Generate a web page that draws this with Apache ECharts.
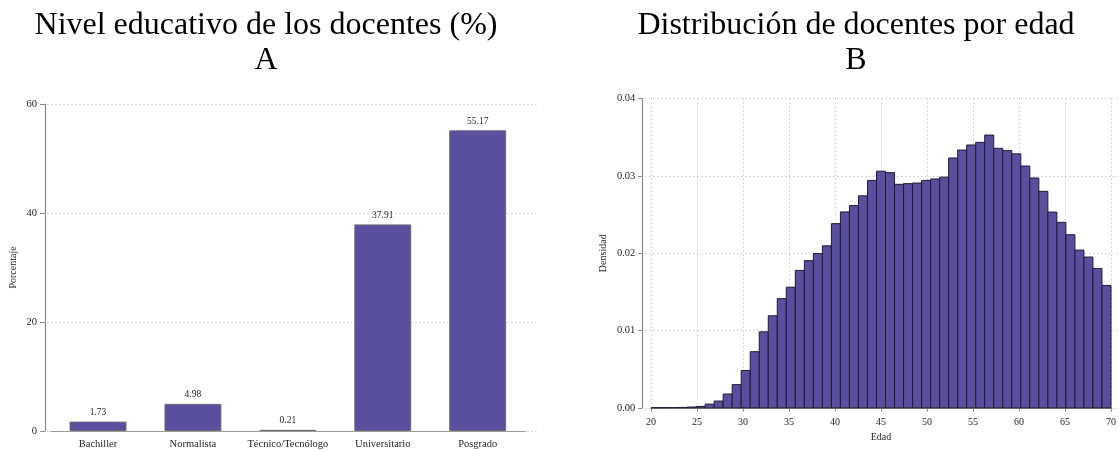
<!DOCTYPE html>
<html>
<head>
<meta charset="utf-8">
<script src="https://cdn.jsdelivr.net/npm/echarts@6/dist/echarts.min.js"></script>
<style>
  html, body { margin: 0; padding: 0; background: #fff; }
  #chart { width: 1119px; height: 450px; }
</style>
</head>
<body>
<div id="chart"></div>
<script>
// Panel A: teachers' education level (%)
const nivelCategorias = ['Bachiller', 'Normalista', 'Técnico/Tecnólogo', 'Universitario', 'Posgrado'];
const nivelPorcentaje = [1.73, 4.98, 0.21, 37.91, 55.17];

// Panel B: age histogram (density), equal-width bins between these ages
const edadMin = 20;
const edadMax = 70;
const edadDensidad = [
  0.00002, 0.00002, 0.00003, 0.00005, 0.0001, 0.00018, 0.00048, 0.00087, 0.00178, 0.0030,
  0.00483, 0.00726, 0.00983, 0.01191, 0.01413, 0.01561, 0.01778, 0.01904, 0.01996, 0.02096,
  0.02383, 0.02535, 0.02617, 0.02743, 0.02943, 0.03062, 0.03043, 0.02892, 0.02901, 0.02909,
  0.02943, 0.02961, 0.02985, 0.03233, 0.03336, 0.03401, 0.03435, 0.03530, 0.03358, 0.03328,
  0.03286, 0.03129, 0.02974, 0.02801, 0.02533, 0.02400, 0.02240, 0.02041, 0.01951, 0.01804,
  0.01584
];

const SERIF = "'Liberation Serif', 'Times New Roman', serif";
const BAR_FILL = '#5a4e9e';
const AXIS_GRAY = '#8a8a8a';
const TEXT = '#262626';
const GRID_DOT = { show: true, lineStyle: { type: [1.5, 2.5], color: '#c8c8c8', width: 1 } };

const anchoBin = (edadMax - edadMin) / edadDensidad.length;
const histData = edadDensidad.map((d, i) => [edadMin + i * anchoBin, edadMin + (i + 1) * anchoBin, d]);

const chart = echarts.init(document.getElementById('chart'), null, { renderer: 'canvas' });

const titleStyle = { fontFamily: SERIF, fontSize: 32, fontWeight: 'normal', color: '#000', lineHeight: 35 };

chart.setOption({
  backgroundColor: '#fff',
  animation: false,
  title: [
    { text: 'Nivel educativo de los docentes (%)\nA', left: 266, top: 8, padding: 0, textAlign: 'center', textStyle: titleStyle },
    { text: 'Distribución de docentes por edad\nB', left: 856, top: 8, padding: 0, textAlign: 'center', textStyle: titleStyle }
  ],
  grid: [
    // A: backdrop for the horizontal guide lines
    { left: 47, right: 581, top: 104, bottom: 18.3 },
    // A: bars
    { left: 50.55, right: 593.85, top: 104, bottom: 18.3 },
    // B: backdrop for the horizontal guide lines
    { left: 645, right: 1, top: 98.7, bottom: 42.2 },
    // B: histogram
    { left: 651, right: 7.3, top: 98.7, bottom: 42.2 }
  ],
  xAxis: [
    { gridIndex: 0, type: 'value', min: 0, max: 1, show: false },
    {
      gridIndex: 1, type: 'category', data: nivelCategorias,
      axisLine: { show: true, lineStyle: { color: '#9a9a9a', width: 1 } },
      axisTick: { show: false },
      axisLabel: { interval: 0, fontFamily: SERIF, fontSize: 10.5, color: TEXT, margin: 8 },
      splitLine: { show: false }
    },
    { gridIndex: 2, type: 'value', min: 0, max: 1, show: false },
    {
      gridIndex: 3, type: 'value', min: edadMin, max: edadMax, interval: 5,
      name: 'Edad', nameLocation: 'middle', nameGap: 25,
      nameTextStyle: { fontFamily: SERIF, fontSize: 10, color: TEXT },
      axisLine: { show: true, lineStyle: { color: AXIS_GRAY, width: 1 } },
      axisTick: { show: true, length: 4, lineStyle: { color: AXIS_GRAY } },
      axisLabel: { fontFamily: SERIF, fontSize: 10, color: TEXT, margin: 10 },
      splitLine: GRID_DOT
    }
  ],
  yAxis: [
    {
      gridIndex: 0, type: 'value', min: 0, max: 60, interval: 20,
      axisLine: { show: false }, axisTick: { show: false }, axisLabel: { show: false },
      splitLine: GRID_DOT
    },
    {
      gridIndex: 1, type: 'value', min: 0, max: 60, interval: 20, offset: 5.55,
      name: 'Porcentaje', nameLocation: 'middle', nameGap: 27,
      nameTextStyle: { fontFamily: SERIF, fontSize: 10, color: TEXT },
      axisLine: { show: true, lineStyle: { color: AXIS_GRAY, width: 1.2 } },
      axisTick: { show: true, length: 5, lineStyle: { color: AXIS_GRAY } },
      axisLabel: { fontFamily: SERIF, fontSize: 10.5, color: TEXT, margin: 8 },
      splitLine: { show: false }
    },
    {
      gridIndex: 2, type: 'value', min: 0, max: 0.04, interval: 0.01,
      axisLine: { show: false }, axisTick: { show: false }, axisLabel: { show: false },
      splitLine: GRID_DOT
    },
    {
      gridIndex: 3, type: 'value', min: 0, max: 0.04, interval: 0.01, offset: 8.7,
      name: 'Densidad', nameLocation: 'middle', nameGap: 34,
      nameTextStyle: { fontFamily: SERIF, fontSize: 10, color: TEXT },
      axisLine: { show: true, lineStyle: { color: AXIS_GRAY, width: 1.2 } },
      axisTick: { show: true, length: 4, lineStyle: { color: AXIS_GRAY } },
      axisLabel: { fontFamily: SERIF, fontSize: 10.5, color: TEXT, margin: 7, formatter: v => v.toFixed(2) },
      splitLine: { show: false }
    }
  ],
  series: [
    {
      type: 'bar', xAxisIndex: 1, yAxisIndex: 1,
      data: nivelPorcentaje, barWidth: '60%',
      itemStyle: { color: BAR_FILL, borderColor: '#6d6d78', borderWidth: 1 },
      label: {
        show: true, position: 'top', distance: 4,
        fontFamily: SERIF, fontSize: 9.5, color: TEXT,
        formatter: p => p.value.toFixed(2)
      }
    },
    {
      type: 'custom', xAxisIndex: 3, yAxisIndex: 3,
      data: histData,
      encode: { x: [0, 1], y: 2 },
      renderItem: (params, api) => {
        const topLeft = api.coord([api.value(0), api.value(2)]);
        const bottomRight = api.coord([api.value(1), 0]);
        return {
          type: 'rect',
          shape: {
            x: topLeft[0], y: topLeft[1],
            width: bottomRight[0] - topLeft[0],
            height: bottomRight[1] - topLeft[1]
          },
          style: { fill: BAR_FILL, stroke: '#1f1b33', lineWidth: 1 }
        };
      }
    }
  ]
});
</script>
</body>
</html>
